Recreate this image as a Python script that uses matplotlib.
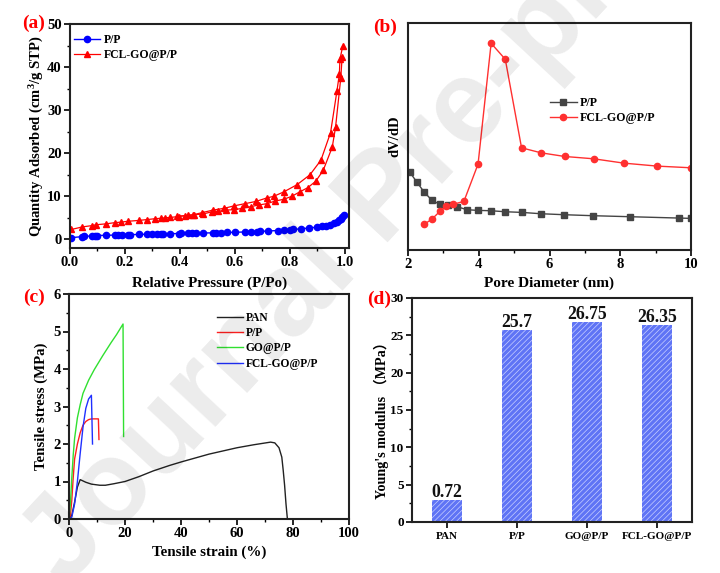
import matplotlib
matplotlib.use('Agg')
import matplotlib.pyplot as plt
from matplotlib.ticker import MultipleLocator

plt.rcParams['font.family'] = ['Liberation Serif', 'Noto Sans CJK SC']
plt.rcParams['font.weight'] = 'bold'
plt.rcParams['axes.labelweight'] = 'bold'
plt.rcParams['mathtext.fontset'] = 'custom'
plt.rcParams['mathtext.rm'] = 'Liberation Serif:bold'
plt.rcParams['mathtext.default'] = 'rm'
plt.rcParams['hatch.linewidth'] = 0.5

W, H = 720, 573

# (a) isotherms
pp_x = [0.005, 0.045, 0.05, 0.08, 0.09, 0.1, 0.13, 0.165, 0.175, 0.19, 0.21, 0.22, 0.25,
        0.28, 0.3, 0.315, 0.33, 0.34, 0.365, 0.395, 0.405, 0.43, 0.445, 0.46, 0.485, 0.52,
        0.53, 0.55, 0.57, 0.6, 0.635, 0.66, 0.68, 0.69, 0.72, 0.755, 0.78, 0.8, 0.81, 0.84,
        0.87, 0.9, 0.915, 0.93, 0.945, 0.96, 0.97, 0.98, 0.985, 0.99, 0.995]
pp_y = [0.4, 0.65, 0.7, 0.8, 0.85, 0.9, 0.95, 1.0, 1.02, 1.05, 1.08, 1.1, 1.15,
        1.2, 1.22, 1.25, 1.27, 1.3, 1.32, 1.36, 1.38, 1.41, 1.43, 1.45, 1.48, 1.52,
        1.54, 1.57, 1.6, 1.65, 1.72, 1.78, 1.83, 1.85, 1.95, 2.05, 2.15, 2.25, 2.3, 2.45,
        2.65, 2.85, 3.0, 3.15, 3.35, 3.7, 4.0, 4.4, 4.8, 5.2, 5.6]
ads_x = [0.005, 0.045, 0.08, 0.095, 0.13, 0.165, 0.185, 0.21, 0.25, 0.28, 0.31, 0.33, 0.345,
         0.365, 0.395, 0.43, 0.45, 0.485, 0.515, 0.539, 0.567, 0.597, 0.627, 0.657, 0.688,
         0.717, 0.746, 0.777, 0.807, 0.835, 0.865, 0.894, 0.921, 0.954, 0.966, 0.985, 0.99]
ads_y = [2.3, 2.9, 3.2, 3.4, 3.6, 3.9, 4.0, 4.2, 4.4, 4.6, 4.8, 4.9, 5.0,
         5.1, 5.3, 5.6, 5.7, 5.9, 6.4, 6.5, 6.8, 6.9, 7.2, 7.6, 8.0,
         8.3, 8.9, 9.3, 10.0, 11.0, 12.0, 13.5, 16.0, 21.4, 26.0, 37.4, 42.3]
des_x = [0.992, 0.982, 0.98, 0.971, 0.948, 0.913, 0.873, 0.826, 0.777, 0.741, 0.715, 0.676,
         0.637, 0.598, 0.56, 0.52, 0.48, 0.447, 0.42, 0.39]
des_y = [44.8, 41.8, 38.4, 34.4, 24.8, 18.4, 15.0, 12.7, 11.0, 10.0, 9.6, 8.8,
         8.3, 7.8, 7.2, 6.8, 6.2, 5.7, 5.5, 5.4]

# (b) pore size distribution, arbitrary units
psd_pp_x = [2.05, 2.25, 2.45, 2.67, 2.9, 3.13, 3.39, 3.67, 3.98, 4.34, 4.74, 5.21, 5.75,
            6.42, 7.24, 8.28, 9.65, 10.0]
psd_pp_y = [2.34, 2.04, 1.75, 1.5, 1.37, 1.35, 1.3, 1.21, 1.19, 1.18, 1.15, 1.13, 1.09,
            1.06, 1.03, 1.0, 0.96, 0.95]
psd_fcl_x = [2.45, 2.67, 2.9, 3.08, 3.26, 3.58, 3.98, 4.35, 4.75, 5.21, 5.76, 6.43, 7.25,
             8.1, 9.05, 10.0]
psd_fcl_y = [0.77, 0.92, 1.16, 1.32, 1.37, 1.46, 2.58, 6.21, 5.73, 3.07, 2.92, 2.81, 2.74,
             2.61, 2.52, 2.47]

# (c) tensile curves
pan_x = [0, 1, 2, 3, 4, 6, 8, 11, 13, 16, 20, 25, 30, 36, 40, 50, 60, 66, 72, 73.5, 75, 76,
         76.5, 77, 77.5, 78]
pan_y = [0, 0.1, 0.45, 0.85, 1.05, 0.98, 0.93, 0.9, 0.9, 0.94, 1.0, 1.13, 1.28, 1.43, 1.52,
         1.73, 1.9, 1.98, 2.05, 2.03, 1.9, 1.65, 1.3, 0.9, 0.4, 0]
tpp_x = [0, 0.5, 1, 1.5, 2, 3, 4, 5, 6, 7, 8, 10.5, 10.7]
tpp_y = [0, 0.1, 0.5, 1.1, 1.6, 2.0, 2.3, 2.5, 2.6, 2.65, 2.67, 2.67, 2.12]
go_x = [0, 0.5, 1, 1.5, 2, 3, 4, 5, 7, 9, 12, 15, 17, 19.3, 19.5]
go_y = [0, 0.4, 1.1, 1.7, 2.15, 2.7, 3.05, 3.35, 3.7, 3.98, 4.35, 4.7, 4.92, 5.2, 2.2]
fcl_x = [0, 1, 2, 3, 4, 5, 6, 7, 8, 8.4]
fcl_y = [0, 0.05, 0.4, 1.0, 1.75, 2.45, 2.95, 3.2, 3.3, 2.0]

# (d) modulus bars
samples = ['PAN', 'P/P', 'GO@P/P', 'FCL-GO@P/P']
bar_heights = [2.9, 25.7, 26.75, 26.35]
bar_labels = ['0.72', '25.7', '26.75', '26.35']


def make_axes(fig, left, right, top, bottom):
    """Add axes from pixel edges measured on the reference"""
    ax = fig.add_axes([left / W, 1 - bottom / H, (right - left) / W, (bottom - top) / H])
    ax.patch.set_alpha(0)
    for spine in ax.spines.values():
        spine.set_linewidth(1.5)
        spine.set_color('#222222')
    ax.tick_params(which='major', length=4, width=1.2, labelsize=10.5, pad=2)
    ax.tick_params(which='minor', length=2.5, width=1)
    return ax


fig = plt.figure(figsize=(W / 100, H / 100), dpi=100)

# Panel (a)
ax = make_axes(fig, 70, 349, 24, 248)
ax.plot(pp_x, pp_y, '-o', color='#0000ff', lw=1, ms=4.5, label='P/P')
ax.plot(ads_x, ads_y, '-^', color='#ff0000', lw=0.9, ms=5, label='FCL-GO@P/P')
ax.plot(des_x, des_y, '-^', color='#ff0000', lw=0.9, ms=5)
ax.set_xlim(0, 1.015)
ax.set_ylim(-2, 50)
ax.xaxis.set_major_locator(MultipleLocator(0.2))
ax.xaxis.set_minor_locator(MultipleLocator(0.1))
ax.yaxis.set_major_locator(MultipleLocator(10))
ax.yaxis.set_minor_locator(MultipleLocator(5))
ax.set_xlabel('Relative Pressure (P/Po)', fontsize=10.8, labelpad=5)
ax.set_ylabel('Quantity Adsorbed (cm$^3$/g STP)', fontsize=10.5, labelpad=1)
ax.legend(loc='upper left', bbox_to_anchor=(0.014, 0.955), frameon=False, fontsize=8.5,
          handlelength=2.2, labelspacing=0.27, borderaxespad=0, borderpad=0, handletextpad=0.3)

# Panel (b)
ax = make_axes(fig, 408, 691, 23, 250)
ax.plot(psd_pp_x, psd_pp_y, '-s', color='#444444', lw=1, ms=4, label='P/P')
ax.plot(psd_fcl_x, psd_fcl_y, '-o', color='#ff3030', lw=1, ms=4.5, label='FCL-GO@P/P')
ax.set_xlim(2, 10)
ax.set_ylim(0, 6.82)
ax.set_yticks([])
ax.xaxis.set_major_locator(MultipleLocator(2))
ax.xaxis.set_minor_locator(MultipleLocator(1))
ax.set_xlabel('Pore Diameter (nm)', fontsize=11, labelpad=4)
ax.set_ylabel('dV/dD', fontsize=10.5, labelpad=5)
ax.legend(loc='upper left', bbox_to_anchor=(0.5, 0.674), frameon=False, fontsize=8.6,
          handlelength=2.3, labelspacing=0.27, borderaxespad=0, borderpad=0, handletextpad=0.25)

# Panel (c)
ax = make_axes(fig, 69, 349, 294, 519)
ax.plot(pan_x, pan_y, color='#222222', lw=1, label='PAN')
ax.plot(tpp_x, tpp_y, color='#ff2020', lw=1, label='P/P')
ax.plot(go_x, go_y, color='#30e030', lw=1, label='GO@P/P')
ax.plot(fcl_x, fcl_y, color='#2030ff', lw=1, label='FCL-GO@P/P')
ax.set_xlim(0, 100)
ax.set_ylim(0, 6)
ax.xaxis.set_major_locator(MultipleLocator(20))
ax.xaxis.set_minor_locator(MultipleLocator(10))
ax.yaxis.set_major_locator(MultipleLocator(1))
ax.yaxis.set_minor_locator(MultipleLocator(0.5))
ax.set_xlabel('Tensile strain (%)', fontsize=10.8, labelpad=4)
ax.set_ylabel('Tensile stress (MPa)', fontsize=10.7, labelpad=4)
ax.legend(loc='upper left', bbox_to_anchor=(0.529, 0.92), frameon=False, fontsize=8.3,
          handlelength=2.25, labelspacing=0.28, borderaxespad=0, borderpad=0, handletextpad=0.25)

# Panel (d)
ax = make_axes(fig, 412, 692, 298, 522)
positions = range(len(samples))
bars = ax.bar(positions, bar_heights, width=0.415, facecolor='#5f74f5', edgecolor='#c8d0ff',
              hatch='//////', lw=0)
for bar, label in zip(bars, bar_labels):
    ax.text(bar.get_x() + bar.get_width() / 2, bar.get_height() - 0.15, label, ha='center',
            va='bottom', fontsize=12.8, color='#111111')
ax.set_xlim(-0.5, 3.5)
ax.set_ylim(0, 30)
ax.set_xticks(list(positions), samples, fontsize=8)
ax.tick_params(axis='x', pad=3)
ax.yaxis.set_major_locator(MultipleLocator(5))
ax.yaxis.set_minor_locator(MultipleLocator(2.5))
ax.tick_params(axis='y', labelsize=9.5)
ax.set_ylabel("Young's modulus \uff08MPa\uff09", fontsize=10.2, labelpad=1, y=0.47)

# Panel letters
for letter, px, py in [('(a)', 22, 23), ('(b)', 373, 27), ('(c)', 23, 297), ('(d)', 367, 299)]:
    fig.text(px / W, 1 - py / H, letter, color='#ff0000', fontsize=14, va='center')

# Watermark over the whole page, runs off the top like the reference
fig.text(385 / W, 1 - 200 / H, 'Journal Pre-proof', family='Liberation Sans', weight='bold',
         fontsize=86, rotation=47, rotation_mode='anchor', ha='center', va='center',
         color='black', alpha=0.08, zorder=10)

fig.savefig('out.png', dpi=100)
